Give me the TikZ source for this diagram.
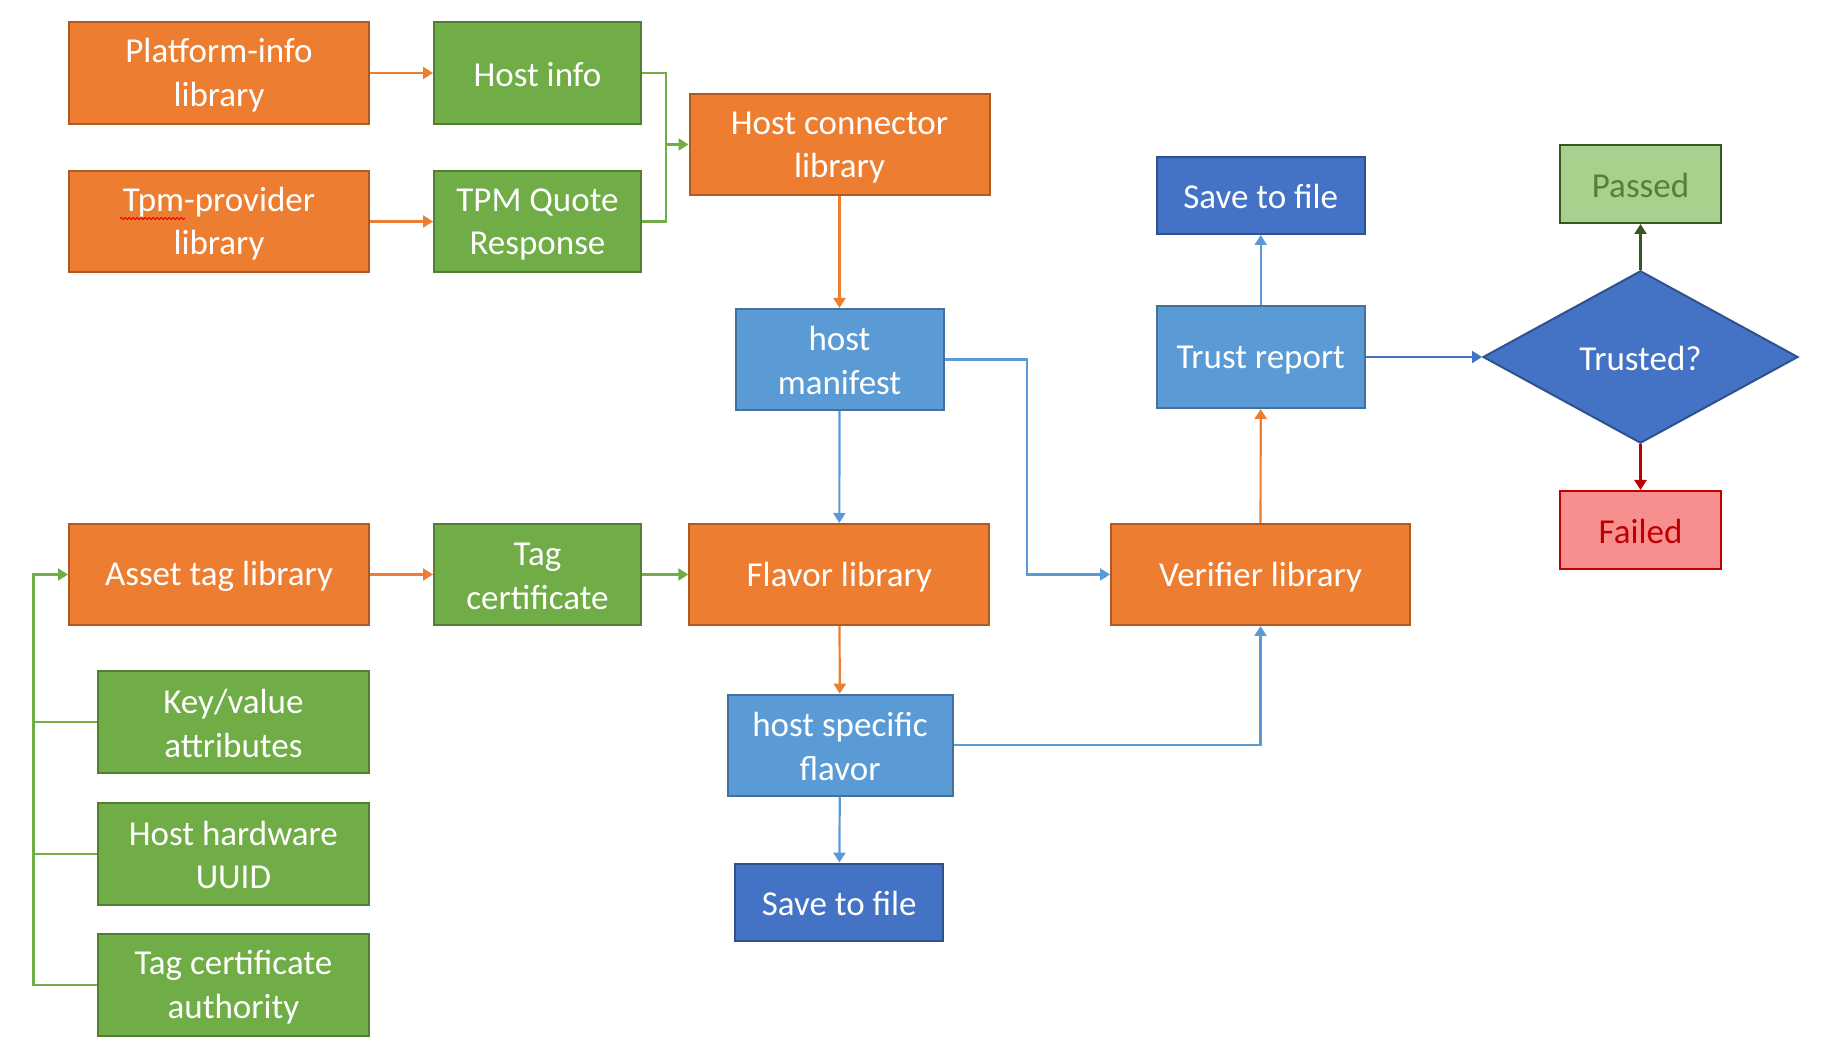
\documentclass[tikz,border=0pt]{standalone}
\usepackage{fontspec}
\setmainfont{Carlito}
\usetikzlibrary{arrows.meta,shapes.geometric,decorations.pathmorphing}
\definecolor{orF}{HTML}{ED7D31}
\definecolor{orD}{HTML}{AE5A21}
\definecolor{grF}{HTML}{70AD47}
\definecolor{grD}{HTML}{507E32}
\definecolor{lbF}{HTML}{5B9BD5}
\definecolor{lbD}{HTML}{41719C}
\definecolor{dbF}{HTML}{4472C4}
\definecolor{dbD}{HTML}{2F528F}
\definecolor{paF}{HTML}{A9D18E}
\definecolor{paD}{HTML}{385723}
\definecolor{paT}{HTML}{538135}
\definecolor{faF}{HTML}{F88F8F}
\definecolor{faD}{HTML}{C00000}
\newcommand{\sx}{\rule[-1.2pt]{0pt}{15.6pt}}
\begin{document}
\begin{tikzpicture}[x=0.5pt,y=-0.5pt,
  base/.style={draw, line width=1pt, inner sep=0pt, align=center,
    font=\fontsize{17.5}{21.7}\selectfont, text=white},
  orbox/.style={base, fill=orF, draw=orD},
  grbox/.style={base, fill=grF, draw=grD},
  lbbox/.style={base, fill=lbF, draw=lbD},
  dbbox/.style={base, fill=dbF, draw=dbD},
  sz/.style 2 args={minimum width=#1, minimum height=#2},
  arr/.style={line width=1.1pt, -{Triangle[length=5pt,width=6pt]}},
  ln/.style={line width=1.1pt},
]
\useasboundingbox (0,0) rectangle (1837,1058);

% top-left group
\node[orbox, sz={150pt}{51pt}] (plat) at (219,73) {\sx Platform-info\\\sx library};
\node[grbox, sz={103.5pt}{51pt}] (hinfo) at (537.5,73) {\sx Host info};
\node[orbox, sz={150pt}{50.5pt}] (tpm) at (219,221.5) {\sx Tpm-provider\\\sx library};
\node[grbox, sz={103.5pt}{50.5pt}] (tpmq) at (537.5,221.5) {\sx TPM Quote\\\sx Response};
\node[orbox, sz={150pt}{50.5pt}] (hconn) at (839.5,144.5) {\sx Host connector\\\sx library};
\node[lbbox, sz={104pt}{50.5pt}] (hman) at (839.5,359.5) {\sx host\\\sx manifest};

% right group
\node[dbbox, sz={104.25pt}{38.7pt}] (save1) at (1260.75,195.3) {\sx Save to file};
\node[lbbox, sz={104.25pt}{51pt}] (trust) at (1260.75,357) {\sx Trust report};
\node[base, fill=paF, draw=paD, text=paT, sz={80.75pt}{39pt}] (passed) at (1640.5,184) {\sx Passed};
\node[base, diamond, fill=dbF, draw=dbD, sz={157.5pt}{86.2pt}] (trusted) at (1640.5,357) {\sx Trusted?};
\node[base, fill=faF, draw=faD, text=faD, sz={80.75pt}{39pt}] (failed) at (1640.5,530) {\sx Failed};

% middle row
\node[orbox, sz={150pt}{50.5pt}] (asset) at (219,574.5) {\sx Asset tag library};
\node[grbox, sz={103.5pt}{50.5pt}] (tagc) at (537.5,574.5) {\sx Tag\\\sx certificate};
\node[orbox, sz={150pt}{50.5pt}] (flavor) at (839.3,574.5) {\sx Flavor library};
\node[orbox, sz={149.5pt}{50.5pt}] (verifier) at (1260.5,574.5) {\sx Verifier library};

% bottom-left group
\node[grbox, sz={135.6pt}{50.8pt}] (keyval) at (233.4,722.3) {\sx Key/value\\\sx attributes};
\node[grbox, sz={135.6pt}{51pt}] (hwuuid) at (233.4,854) {\sx Host hardware\\\sx UUID};
\node[grbox, sz={135.6pt}{51pt}] (tca) at (233.4,984.9) {\sx Tag certificate\\\sx authority};

% bottom middle
\node[lbbox, sz={112.5pt}{50.5pt}] (hsf) at (840,745.2) {\sx host specific\\\sx flavor};
\node[dbbox, sz={103.8pt}{38.7pt}] (save2) at (839.2,902.3) {\sx Save to file};

% spell-check squiggle under "Tpm"
\draw[red!85!black, line width=0.4pt, decorate,
  decoration={snake, amplitude=0.5pt, segment length=2pt}]
  ([shift={(-99,-3)}]tpm.center) -- ([shift={(-34,-3)}]tpm.center);

% connectors
\coordinate (j) at (666,144.5);
\coordinate (k) at (1026.7,574.5);
\coordinate (b) at (33.5,574.5);

\draw[arr, orF] (plat) -- (hinfo);
\draw[arr, orF] (tpm) -- (tpmq);
\draw[ln, grF] (hinfo.east) -| (j);
\draw[ln, grF] (tpmq.east) -| (j);
\draw[arr, grF] (j) -- (hconn.west);
\draw[arr, orF] (hconn) -- (hman);
\draw[arr, lbF] (hman) -- (flavor);
\draw[arr, lbF] (hman.east) -| (k) -- (verifier.west);
\draw[arr, orF] (asset) -- (tagc);
\draw[arr, grF] (tagc) -- (flavor);
\draw[arr, grF] (tca.west) -| (b) -- (asset.west);
\draw[ln, grF] (keyval.west) -- (keyval.west -| b);
\draw[ln, grF] (hwuuid.west) -- (hwuuid.west -| b);
\draw[arr, orF] (flavor) -- (hsf);
\draw[arr, lbF] (hsf) -- (save2);
\draw[arr, lbF] (hsf.east) -| (verifier.south);
\draw[arr, orF] (verifier) -- (trust);
\draw[arr, lbF] (trust) -- (save1);
\draw[arr, dbF] (trust.east) -- (trusted.west);
\draw[arr, paD] (trusted.north) -- (passed.south);
\draw[arr, faD] (trusted.south) -- (failed.north);
\end{tikzpicture}
\end{document}
